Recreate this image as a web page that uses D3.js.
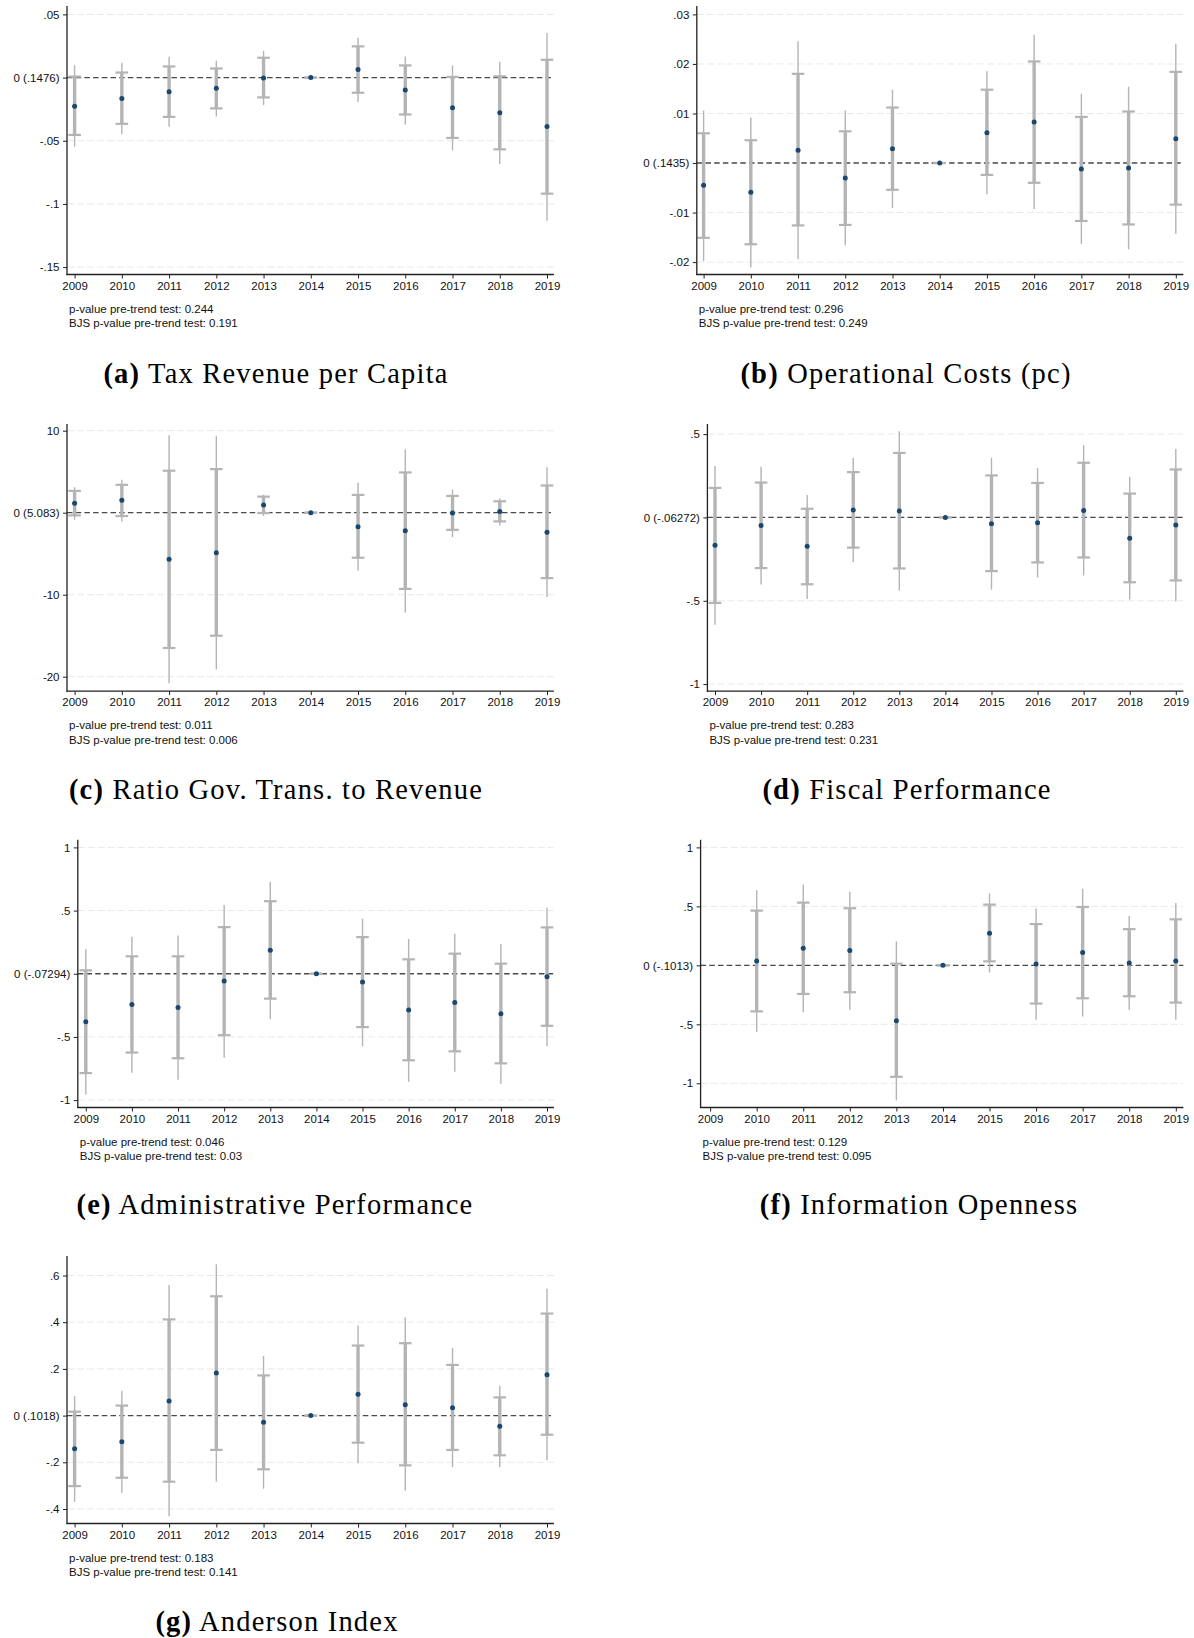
<!DOCTYPE html>
<html>
<head>
<meta charset="utf-8">
<script src="https://cdn.jsdelivr.net/npm/d3@7"></script>
<style>
  html, body { margin: 0; padding: 0; background: #ffffff; }
  svg { display: block; }
</style>
</head>
<body>
<svg id="chart" width="1194" height="1638"></svg>
<script>
// ---------------- DATA ----------------
const years = [2009, 2010, 2011, 2012, 2013, 2014, 2015, 2016, 2017, 2018, 2019];

// (a) Tax Revenue per Capita
const taxCoef    = [-0.0226, -0.0165, -0.0112, -0.0085, -0.0003, 0, 0.0064, -0.0098, -0.0239, -0.0279, -0.0388];
const taxInnerHi = [0.0008, 0.0040, 0.0088, 0.0072, 0.0157, 0, 0.0247, 0.0096, 0.0005, 0.0010, 0.0141];
const taxInnerLo = [-0.0454, -0.0366, -0.0311, -0.0244, -0.0157, 0, -0.0120, -0.0292, -0.0478, -0.0568, -0.0919];
const taxOuterHi = [0.0098, 0.0117, 0.0165, 0.0133, 0.0212, 0, 0.0316, 0.0167, 0.0096, 0.0125, 0.0353];
const taxOuterLo = [-0.0547, -0.0449, -0.0390, -0.0308, -0.0218, 0, -0.0194, -0.0372, -0.0576, -0.0685, -0.1134];
const taxTicks   = [0.05, 0, -0.05, -0.1, -0.15];
const taxTickLabels = [".05", "0 (.1476)", "-.05", "-.1", "-.15"];

// (b) Operational Costs (pc)
const opCoef    = [-0.0045, -0.0059, 0.0026, -0.0030, 0.0029, 0, 0.0061, 0.0083, -0.0012, -0.0010, 0.0049];
const opInnerHi = [0.0060, 0.0046, 0.0180, 0.0064, 0.0112, 0, 0.0148, 0.0205, 0.0093, 0.0104, 0.0184];
const opInnerLo = [-0.0151, -0.0164, -0.0126, -0.0125, -0.0054, 0, -0.0024, -0.0040, -0.0117, -0.0124, -0.0084];
const opOuterHi = [0.0106, 0.0092, 0.0246, 0.0106, 0.0148, 0, 0.0185, 0.0259, 0.0140, 0.0154, 0.0241];
const opOuterLo = [-0.0198, -0.0211, -0.0194, -0.0166, -0.0091, 0, -0.0063, -0.0093, -0.0163, -0.0174, -0.0143];
const opTicks   = [0.03, 0.02, 0.01, 0, -0.01, -0.02];
const opTickLabels = [".03", ".02", ".01", "0 (.1435)", "-.01", "-.02"];

// (c) Ratio Gov. Trans. to Revenue
const ratioCoef    = [1.15, 1.51, -5.69, -4.87, 0.94, 0, -1.72, -2.21, -0.04, 0.16, -2.37];
const ratioInnerHi = [2.66, 3.40, 5.12, 5.32, 1.96, 0, 2.17, 4.91, 2.05, 1.39, 3.32];
const ratioInnerLo = [-0.33, -0.41, -16.5, -15.0, -0.04, 0, -5.49, -9.29, -2.09, -1.06, -7.98];
const ratioOuterHi = [3.11, 4.01, 9.46, 9.37, 2.20, 0, 3.68, 7.74, 2.82, 1.72, 5.53];
const ratioOuterLo = [-0.86, -1.06, -20.8, -19.1, -0.40, 0, -7.04, -12.16, -2.99, -1.56, -10.27];
const ratioTicks   = [10, 0, -10, -20];
const ratioTickLabels = ["10", "0 (5.083)", "-10", "-20"];

// (d) Fiscal Performance
const fiscalCoef    = [-0.167, -0.048, -0.173, 0.044, 0.038, 0, -0.038, -0.032, 0.042, -0.125, -0.046];
const fiscalInnerHi = [0.177, 0.209, 0.052, 0.272, 0.387, 0, 0.252, 0.207, 0.328, 0.143, 0.288];
const fiscalInnerLo = [-0.513, -0.304, -0.401, -0.181, -0.306, 0, -0.322, -0.270, -0.240, -0.389, -0.378];
const fiscalOuterHi = [0.308, 0.304, 0.135, 0.356, 0.517, 0, 0.358, 0.296, 0.433, 0.242, 0.411];
const fiscalOuterLo = [-0.644, -0.403, -0.489, -0.268, -0.439, 0, -0.433, -0.360, -0.348, -0.493, -0.505];
const fiscalTicks   = [0.5, 0, -0.5, -1];
const fiscalTickLabels = [".5", "0 (-.06272)", "-.5", "-1"];

// (e) Administrative Performance
const adminCoef    = [-0.380, -0.244, -0.268, -0.058, 0.186, 0, -0.066, -0.287, -0.228, -0.316, -0.024];
const adminInnerHi = [0.027, 0.138, 0.138, 0.369, 0.574, 0, 0.290, 0.114, 0.159, 0.080, 0.367];
const adminInnerLo = [-0.786, -0.624, -0.669, -0.486, -0.197, 0, -0.422, -0.685, -0.614, -0.709, -0.412];
const adminOuterHi = [0.194, 0.292, 0.303, 0.544, 0.728, 0, 0.436, 0.276, 0.316, 0.236, 0.523];
const adminOuterLo = [-0.956, -0.784, -0.839, -0.664, -0.359, 0, -0.574, -0.855, -0.776, -0.871, -0.574];
const adminTicks   = [1, 0.5, 0, -0.5, -1];
const adminTickLabels = ["1", ".5", "0 (-.07294)", "-.5", "-1"];

// (f) Information Openness (no 2009 estimate)
const infoCoef    = [null, 0.037, 0.145, 0.125, -0.469, 0, 0.273, 0.011, 0.108, 0.020, 0.037];
const infoInnerHi = [null, 0.464, 0.532, 0.484, 0.014, 0, 0.515, 0.350, 0.495, 0.307, 0.390];
const infoInnerLo = [null, -0.390, -0.242, -0.228, -0.945, 0, 0.034, -0.324, -0.279, -0.262, -0.316];
const infoOuterHi = [null, 0.637, 0.686, 0.623, 0.202, 0, 0.609, 0.481, 0.649, 0.418, 0.529];
const infoOuterLo = [null, -0.566, -0.398, -0.376, -1.144, 0, -0.060, -0.461, -0.435, -0.376, -0.461];
const infoTicks   = [1, 0.5, 0, -0.5, -1];
const infoTickLabels = ["1", ".5", "0 (-.1013)", "-.5", "-1"];

// (g) Anderson Index
const andCoef    = [-0.142, -0.112, 0.063, 0.182, -0.029, 0, 0.091, 0.047, 0.034, -0.046, 0.175];
const andInnerHi = [0.017, 0.043, 0.412, 0.511, 0.172, 0, 0.300, 0.310, 0.217, 0.078, 0.437];
const andInnerLo = [-0.302, -0.266, -0.283, -0.147, -0.230, 0, -0.116, -0.213, -0.147, -0.170, -0.082];
const andOuterHi = [0.083, 0.106, 0.559, 0.648, 0.256, 0, 0.386, 0.420, 0.290, 0.128, 0.543];
const andOuterLo = [-0.369, -0.330, -0.431, -0.283, -0.313, 0, -0.204, -0.322, -0.221, -0.221, -0.191];
const andTicks   = [0.6, 0.4, 0.2, 0, -0.2, -0.4];
const andTickLabels = [".6", ".4", ".2", "0 (.1018)", "-.2", "-.4"];

const pValues   = ["0.244", "0.296", "0.011", "0.283", "0.046", "0.129", "0.183"];
const bjsValues = ["0.191", "0.249", "0.006", "0.231", "0.03", "0.095", "0.141"];
const captionLetters = ["(a)", "(b)", "(c)", "(d)", "(e)", "(f)", "(g)"];
const captionTitles = ["Tax Revenue per Capita", "Operational Costs (pc)", "Ratio Gov. Trans. to Revenue",
  "Fiscal Performance", "Administrative Performance", "Information Openness", "Anderson Index"];

// ---------------- LAYOUT (pixels only) ----------------
const layout = [
  {x0: 74.6,  x1: 547.0,  left: 67.0,  right: 553.9,  yFirst: 14.4,  yLast: 267.1,  top: 6.0,   bottom: 274.5,  capX: 276, capY: 383},
  {x0: 703.6, x1: 1175.8, left: 696.8, right: 1183.4, yFirst: 14.4,  yLast: 262.1,  top: 6.0,   bottom: 274.5,  capX: 906, capY: 383},
  {x0: 74.6,  x1: 547.0,  left: 67.0,  right: 553.9,  yFirst: 430.7, yLast: 676.7,  top: 424.0, bottom: 691.1,  capX: 276, capY: 799},
  {x0: 715.0, x1: 1175.8, left: 707.4, right: 1183.4, yFirst: 434.1, yLast: 684.1,  top: 424.0, bottom: 691.1,  capX: 907, capY: 799},
  {x0: 85.8,  x1: 547.0,  left: 77.8,  right: 553.9,  yFirst: 847.4, yLast: 1100.1, top: 839.7, bottom: 1107.5, capX: 275, capY: 1214},
  {x0: 710.1, x1: 1175.8, left: 700.6, right: 1183.4, yFirst: 847.4, yLast: 1083.3, top: 839.7, bottom: 1107.5, capX: 919, capY: 1214},
  {x0: 74.6,  x1: 547.0,  left: 67.0,  right: 553.9,  yFirst: 1275.5, yLast: 1509.0, top: 1256.0, bottom: 1523.5, capX: 277, capY: 1631}
];

const panels = [
  {coef: taxCoef, iHi: taxInnerHi, iLo: taxInnerLo, oHi: taxOuterHi, oLo: taxOuterLo, ticks: taxTicks, labels: taxTickLabels},
  {coef: opCoef, iHi: opInnerHi, iLo: opInnerLo, oHi: opOuterHi, oLo: opOuterLo, ticks: opTicks, labels: opTickLabels},
  {coef: ratioCoef, iHi: ratioInnerHi, iLo: ratioInnerLo, oHi: ratioOuterHi, oLo: ratioOuterLo, ticks: ratioTicks, labels: ratioTickLabels},
  {coef: fiscalCoef, iHi: fiscalInnerHi, iLo: fiscalInnerLo, oHi: fiscalOuterHi, oLo: fiscalOuterLo, ticks: fiscalTicks, labels: fiscalTickLabels},
  {coef: adminCoef, iHi: adminInnerHi, iLo: adminInnerLo, oHi: adminOuterHi, oLo: adminOuterLo, ticks: adminTicks, labels: adminTickLabels},
  {coef: infoCoef, iHi: infoInnerHi, iLo: infoInnerLo, oHi: infoOuterHi, oLo: infoOuterLo, ticks: infoTicks, labels: infoTickLabels},
  {coef: andCoef, iHi: andInnerHi, iLo: andInnerLo, oHi: andOuterHi, oLo: andOuterLo, ticks: andTicks, labels: andTickLabels}
];

// ---------------- STYLE ----------------
const sansFont = "'Liberation Sans', Arial, Helvetica, sans-serif";
const serifFont = "'Liberation Serif', 'Times New Roman', serif";
const tickFontSize = 11.5;
const barColor = "#b4b4b4";
const dotColor = "#1a476f";
const textColor = "#111111";
const axisColor = "#222222";

const svg = d3.select("#chart");

panels.forEach((p, i) => {
  const L = layout[i];
  const g = svg.append("g");

  const x = d3.scaleLinear().domain([years[0], years[years.length - 1]]).range([L.x0, L.x1]);
  const y = d3.scaleLinear().domain([p.ticks[0], p.ticks[p.ticks.length - 1]]).range([L.yFirst, L.yLast]);

  const rows = years.map((yr, j) => ({
    year: yr, coef: p.coef[j], iHi: p.iHi[j], iLo: p.iLo[j], oHi: p.oHi[j], oLo: p.oLo[j]
  })).filter(d => d.coef !== null);

  // faint gridlines
  g.append("g").selectAll("line")
    .data(p.ticks.filter(t => t !== 0))
    .join("line")
    .attr("x1", L.left).attr("x2", L.right)
    .attr("y1", d => y(d)).attr("y2", d => y(d))
    .attr("stroke", "#e9e9e9").attr("stroke-width", 1)
    .attr("stroke-dasharray", "7,3");

  // dashed zero reference line
  g.append("line")
    .attr("x1", L.left).attr("x2", L.right)
    .attr("y1", y(0)).attr("y2", y(0))
    .attr("stroke", "#4a4a4a").attr("stroke-width", 1.3)
    .attr("stroke-dasharray", "5.5,3.2");

  // outer CI (thin)
  g.append("g").selectAll("line")
    .data(rows).join("line")
    .attr("x1", d => x(d.year)).attr("x2", d => x(d.year))
    .attr("y1", d => y(d.oHi)).attr("y2", d => y(d.oLo))
    .attr("stroke", barColor).attr("stroke-width", 1.4);

  // inner CI (thick)
  g.append("g").selectAll("line")
    .data(rows).join("line")
    .attr("x1", d => x(d.year)).attr("x2", d => x(d.year))
    .attr("y1", d => y(d.iHi)).attr("y2", d => y(d.iLo))
    .attr("stroke", barColor).attr("stroke-width", 3.4);

  // caps on inner CI
  const caps = [];
  rows.forEach(d => { caps.push({year: d.year, v: d.iHi}); caps.push({year: d.year, v: d.iLo}); });
  g.append("g").selectAll("line")
    .data(caps).join("line")
    .attr("x1", d => x(d.year) - 6.3).attr("x2", d => x(d.year) + 6.3)
    .attr("y1", d => y(d.v)).attr("y2", d => y(d.v))
    .attr("stroke", barColor).attr("stroke-width", 2.2);

  // point estimates
  g.append("g").selectAll("circle")
    .data(rows).join("circle")
    .attr("cx", d => x(d.year)).attr("cy", d => y(d.coef))
    .attr("r", 2.5).attr("fill", dotColor);

  // y axis
  const yAxis = d3.axisLeft(y)
    .tickValues(p.ticks)
    .tickFormat((d, k) => p.labels[k])
    .tickSize(4).tickSizeOuter(0).tickPadding(3.5);
  const ya = g.append("g").attr("transform", `translate(${L.left},0)`).call(yAxis);
  ya.select(".domain").remove();
  ya.selectAll(".tick line").attr("stroke", axisColor).attr("stroke-width", 1);
  ya.selectAll(".tick text")
    .attr("font-family", sansFont).attr("font-size", tickFontSize).attr("fill", textColor);
  g.append("line")
    .attr("x1", L.left).attr("x2", L.left).attr("y1", L.top).attr("y2", L.bottom + 0.6)
    .attr("stroke", axisColor).attr("stroke-width", 1.3);

  // x axis
  const xAxis = d3.axisBottom(x)
    .tickValues(years)
    .tickFormat(d3.format("d"))
    .tickSize(4).tickSizeOuter(0).tickPadding(3);
  const xa = g.append("g").attr("transform", `translate(0,${L.bottom})`).call(xAxis);
  xa.select(".domain").remove();
  xa.selectAll(".tick line").attr("stroke", axisColor).attr("stroke-width", 1);
  xa.selectAll(".tick text")
    .attr("font-family", sansFont).attr("font-size", tickFontSize).attr("fill", textColor);
  g.append("line")
    .attr("x1", L.left - 0.6).attr("x2", L.right).attr("y1", L.bottom).attr("y2", L.bottom)
    .attr("stroke", axisColor).attr("stroke-width", 1.3);

  // notes
  g.append("text")
    .attr("x", L.left + 2).attr("y", L.bottom + 38)
    .attr("font-family", sansFont).attr("font-size", tickFontSize).attr("fill", textColor)
    .text("p-value pre-trend test: " + pValues[i]);
  g.append("text")
    .attr("x", L.left + 2).attr("y", L.bottom + 52.5)
    .attr("font-family", sansFont).attr("font-size", tickFontSize).attr("fill", textColor)
    .text("BJS p-value pre-trend test: " + bjsValues[i]);

  // caption
  const cap = svg.append("text")
    .attr("x", L.capX).attr("y", L.capY)
    .attr("text-anchor", "middle")
    .attr("font-family", serifFont).attr("font-size", 28.5).attr("fill", "#000")
    .attr("letter-spacing", 1.2);
  cap.append("tspan").attr("font-weight", "bold").text(captionLetters[i]);
  cap.append("tspan").text(" " + captionTitles[i]);
});
</script>
</body>
</html>
